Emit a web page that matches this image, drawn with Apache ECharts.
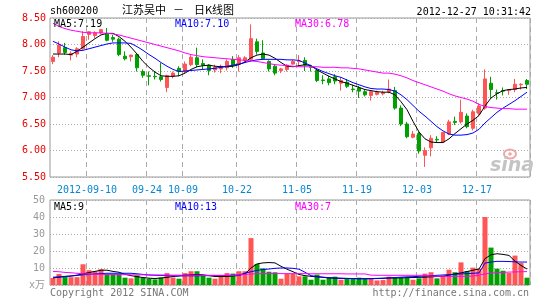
<!DOCTYPE html>
<html><head><meta charset="utf-8">
<script src="https://cdn.jsdelivr.net/npm/echarts@6/dist/echarts.min.js"></script>
<style>html,body{margin:0;padding:0;background:#fff}#c{width:545px;height:300px}</style>
</head><body><div id="c"></div>
<script>
// ---- data ----
const dates = ['2012-08-31','2012-09-03','2012-09-04','2012-09-05','2012-09-06','2012-09-07',
'2012-09-10','2012-09-11','2012-09-12','2012-09-13','2012-09-14','2012-09-17','2012-09-18','2012-09-19','2012-09-20','2012-09-21',
'2012-09-24','2012-09-25','2012-09-26','2012-09-27','2012-09-28','2012-10-08','2012-10-09','2012-10-10','2012-10-11','2012-10-12',
'2012-10-15','2012-10-16','2012-10-17','2012-10-18','2012-10-19','2012-10-22','2012-10-23','2012-10-24','2012-10-25','2012-10-26',
'2012-10-29','2012-10-30','2012-10-31','2012-11-01','2012-11-02','2012-11-05','2012-11-06','2012-11-07','2012-11-08','2012-11-09',
'2012-11-12','2012-11-13','2012-11-14','2012-11-15','2012-11-16','2012-11-19','2012-11-20','2012-11-21','2012-11-22','2012-11-23',
'2012-11-26','2012-11-27','2012-11-28','2012-11-29','2012-11-30','2012-12-03','2012-12-04','2012-12-05','2012-12-06','2012-12-07',
'2012-12-10','2012-12-11','2012-12-12','2012-12-13','2012-12-14','2012-12-17','2012-12-18','2012-12-19','2012-12-20','2012-12-21',
'2012-12-24','2012-12-25','2012-12-26','2012-12-27'];
const tickDates = ['2012-09-10','2012-09-24','2012-10-09','2012-10-22','2012-11-05','2012-11-19','2012-12-03','2012-12-17'];

const opens = [7.68,7.84,7.94,7.80,7.82,7.92,8.19,8.17,8.22,8.21, 8.13,8.10,7.78,7.77,7.81,7.49,7.41,7.40,7.39,7.19,
 7.40,7.55,7.49,7.62,7.75,7.64,7.61,7.52,7.54,7.56, 7.72,7.63,7.70,7.72,8.05,7.84,7.68,7.59,7.51,7.53,
 7.63,7.68,7.70,7.58,7.51,7.33,7.35,7.39,7.27,7.29, 7.16,7.18,7.11,7.04,7.06,7.07,7.11,7.13,6.80,6.50,
 6.25,6.32,5.91,6.05,6.21,6.16,6.31,6.55,6.54,6.65, 6.42,6.70,6.80,7.27,7.09,7.13,7.13,7.15,7.24,7.32];
const closes = [7.76,7.99,7.85,7.83,7.92,8.15,8.24,8.22,8.28,8.08, 8.10,7.81,7.73,7.80,7.56,7.42,7.40,7.39,7.34,7.41,
 7.46,7.49,7.63,7.76,7.62,7.61,7.51,7.57,7.59,7.68, 7.61,7.75,7.75,8.11,7.87,7.73,7.54,7.46,7.54,7.61,
 7.68,7.69,7.61,7.57,7.32,7.32,7.28,7.31,7.32,7.21, 7.15,7.12,7.05,7.11,7.10,7.09,7.16,6.80,6.50,6.26,
 6.31,5.99,6.00,6.23,6.20,6.34,6.54,6.53,6.72,6.45, 6.73,6.84,7.35,7.15,7.08,7.12,7.15,7.25,7.25,7.25];
const lows = [7.63,7.76,7.81,7.70,7.76,7.90,8.09,8.12,8.19,8.06, 8.05,7.78,7.70,7.68,7.49,7.37,7.23,7.34,7.30,7.10,
 7.36,7.40,7.46,7.59,7.57,7.53,7.42,7.47,7.46,7.51, 7.56,7.49,7.65,7.68,7.81,7.72,7.49,7.42,7.46,7.49,
 7.62,7.59,7.50,7.49,7.29,7.25,7.23,7.25,7.13,7.18, 7.10,6.99,7.02,6.94,7.04,7.04,7.08,6.77,6.46,6.23,
 6.23,5.94,5.69,5.89,6.15,6.15,6.29,6.48,6.51,6.42, 6.38,6.66,6.77,6.99,6.96,7.04,7.05,7.10,7.15,7.16];
const highs = [7.80,8.06,8.03,7.87,7.95,8.25,8.25,8.25,8.29,8.31, 8.18,8.13,7.87,7.81,7.81,7.53,7.49,7.49,7.65,7.43,
 7.49,7.59,7.68,7.80,7.94,7.72,7.63,7.62,7.62,7.72, 7.78,7.80,7.78,8.38,8.11,8.08,7.70,7.62,7.56,7.63,
 7.71,7.80,7.76,7.62,7.53,7.42,7.41,7.44,7.38,7.35, 7.24,7.22,7.15,7.13,7.13,7.13,7.34,7.20,6.85,6.54,
 6.37,6.35,6.06,6.29,6.27,6.35,6.58,6.64,6.96,6.70, 6.77,6.89,7.53,7.39,7.15,7.19,7.16,7.35,7.27,7.35];

const ma5 = [7.82,7.82,7.82,7.81,7.87,7.95,8.03,8.11,8.18,8.21, 8.21,8.15,8.06,7.95,7.82,7.68,7.57,7.48,7.41,7.40,
 7.40,7.41,7.46,7.53,7.58,7.60,7.61,7.59,7.58,7.58, 7.59,7.62,7.67,7.75,7.80,7.82,7.80,7.74,7.66,7.59,
 7.58,7.60,7.62,7.60,7.52,7.46,7.40,7.35,7.30,7.27, 7.23,7.19,7.15,7.13,7.11,7.10,7.10,7.05,6.92,6.77,
 6.55,6.35,6.22,6.16,6.15,6.15,6.22,6.32,6.41,6.50, 6.57,6.66,6.84,6.99,7.07,7.13,7.15,7.16,7.18,7.19];
const ma10 = [8.06,8.01,7.95,7.90,7.88,7.89,7.92,7.95,7.98,8.01, 8.03,8.03,8.03,8.02,7.96,7.89,7.81,7.74,7.66,7.59,
 7.53,7.49,7.50,7.51,7.52,7.53,7.54,7.55,7.57,7.59, 7.61,7.63,7.66,7.69,7.71,7.72,7.72,7.72,7.72,7.71,
 7.71,7.70,7.65,7.60,7.54,7.49,7.45,7.41,7.38,7.33, 7.28,7.24,7.20,7.17,7.16,7.16,7.15,7.12,7.05,6.96,
 6.85,6.74,6.65,6.55,6.45,6.37,6.31,6.29,6.29,6.30, 6.33,6.40,6.52,6.62,6.72,6.80,6.87,6.94,7.02,7.10];
const ma30 = [8.40,8.34,8.30,8.27,8.25,8.23,8.22,8.22,8.22,8.21, 8.20,8.18,8.15,8.12,8.09,8.06,8.03,8.00,7.97,7.94,
 7.91,7.88,7.84,7.81,7.79,7.77,7.76,7.75,7.74,7.73, 7.72,7.71,7.70,7.69,7.68,7.66,7.64,7.62,7.61,7.60,
 7.59,7.58,7.58,7.58,7.58,7.57,7.57,7.57,7.56,7.56, 7.55,7.54,7.52,7.50,7.48,7.46,7.46,7.44,7.41,7.37,
 7.32,7.28,7.24,7.20,7.16,7.12,7.07,7.03,7.00,6.97, 6.93,6.87,6.83,6.81,6.80,6.79,6.79,6.78,6.78,6.78];

const volumes = [4.1,6.5,5.4,4.6,4.6,12.2,8.7,8.1,9.3,6.5, 6.5,6.5,4.3,3.9,5.7,4.3,3.7,3.3,4.4,7.0,
 4.4,3.7,7.0,8.1,8.1,5.4,4.3,3.7,5.4,7.0, 6.7,8.1,8.1,27.6,12.4,9.8,7.8,7.5,3.7,6.5,
 6.5,5.1,5.1,3.1,6.1,3.1,4.5,4.9,3.1,3.9, 3.9,4.3,3.5,3.5,2.7,2.9,4.9,4.3,4.3,4.3,
 3.1,3.9,6.7,7.5,3.9,5.5,9.0,7.5,13.3,8.2, 10.2,9.6,40.0,22.0,9.6,8.4,7.1,17.3,12.9,4.3];
const volMa5 = [4.2,4.6,5.0,5.3,5.8,6.6,7.3,8.0,8.7,8.7, 8.0,7.5,6.3,5.5,4.9,4.4,4.0,3.8,4.1,4.5,
 5.0,5.3,5.8,6.0,6.2,6.0,5.5,5.0,5.0,5.0, 5.3,5.7,6.6,10.0,12.4,13.0,13.2,13.0,11.0,9.3,
 7.8,6.2,5.5,5.1,4.8,4.5,4.2,4.0,3.9,3.8, 3.8,3.7,3.7,3.7,3.8,3.9,4.1,4.1,4.2,4.3,
 4.4,4.5,4.6,4.8,5.0,5.1,5.8,6.5,7.1,7.9, 8.7,9.4,15.5,17.8,18.4,18.0,17.4,14.0,11.5,9.4];
const volMa10 = [4.6,4.8,5.0,5.3,5.6,6.0,6.3,6.5,6.7,6.9, 6.9,6.9,6.9,6.9,6.6,6.2,5.9,5.7,5.6,5.5,
 5.4,5.4,5.4,5.4,5.4,5.5,5.5,5.6,5.6,5.6, 5.7,5.8,7.0,7.8,8.6,9.1,9.4,9.8,10.0,10.0,
 9.8,9.3,7.5,5.5,5.0,4.6,4.3,4.1,4.0,3.9, 3.8,3.7,3.7,3.8,3.9,4.0,4.2,4.4,4.6,4.8,
 4.9,5.1,5.3,5.5,5.7,5.9,6.1,6.3,6.5,6.7, 6.9,7.1,12.9,13.5,13.9,13.9,13.8,13.6,13.5,13.5];
const volMa30 = [8.0,7.8,7.4,7.2,6.9,6.6,6.4,6.3,6.3,6.2, 6.2,6.1,6.1,6.0,6.0,6.0,5.9,5.9,5.9,5.9,
 5.8,5.8,5.8,5.8,5.8,5.7,5.7,5.7,5.7,5.7, 5.7,5.9,6.2,6.5,6.6,6.7,6.7,6.7,6.7,6.7,
 6.7,6.7,6.7,6.6,6.6,6.6,6.6,6.6,6.6,6.5, 6.5,6.5,6.5,5.8,5.7,5.7,5.7,5.7,5.7,5.7,
 5.7,5.7,5.7,5.3,5.1,5.1,5.1,5.1,5.1,5.1, 5.3,5.8,6.5,7.0,7.2,7.4,7.6,7.7,7.8,7.9];

// ---- chart ----
const UP = '#ff5555', DOWN = '#00a000';
const MONO = '"DejaVu Sans Mono", "Liberation Mono", "Noto Sans CJK SC", monospace';
const tickIdx = tickDates.map(d => dates.indexOf(d));
const kData = dates.map((d, i) => [opens[i], closes[i], lows[i], highs[i]]);
const volData = volumes.map((v, i) => ({ value: v, itemStyle: { color: closes[i] >= opens[i] ? UP : DOWN } }));

const chart = echarts.init(document.getElementById('c'), null, { renderer: 'canvas' });
function xAx(gi, showLabel) {
  return {
    type: 'category', gridIndex: gi, data: dates, boundaryGap: true,
    axisLine: { show: false }, axisTick: { show: false },
    axisLabel: {
      show: showLabel, interval: (i) => tickIdx.includes(i),
      formatter: (v) => v === tickDates[0] ? v : v.slice(5),
      color: '#0787d1', fontFamily: MONO, fontSize: 10, margin: 8, padding: [0, 4, 0, 0]
    },
    splitLine: { show: true, interval: (i) => tickIdx.includes(i), lineStyle: { color: '#aaa', width: 1, type: [5, 4] } }
  };
}
function line(name, data, color, xi, yi) {
  return { name, type: 'line', data, xAxisIndex: xi, yAxisIndex: yi, symbol: 'none', smooth: false,
    lineStyle: { color, width: 1 }, silent: true, z: 3 };
}
function txt(x, y, text, color, align, size, family) {
  return { type: 'text', x, y, silent: true, z: 100,
    style: { text, fill: color, font: (size || 10) + 'px ' + (family || MONO), textAlign: align || 'left', textVerticalAlign: 'middle' } };
}

chart.setOption({
  animation: false,
  backgroundColor: '#fff',
  grid: [
    { left: 50, top: 18, width: 480, height: 159, show: true, borderColor: '#999', borderWidth: 1, backgroundColor: 'transparent' },
    { left: 50, top: 200, width: 480, height: 85, show: true, borderColor: '#999', borderWidth: 1, backgroundColor: 'transparent' }
  ],
  xAxis: [xAx(0, true), xAx(1, false)],
  yAxis: [
    { type: 'value', gridIndex: 0, min: 5.5, max: 8.5, interval: 0.5,
      axisLine: { show: false }, axisTick: { show: false },
      axisLabel: { color: '#ee0000', fontFamily: MONO, fontSize: 10, margin: 4, formatter: (v) => v.toFixed(2) },
      splitLine: { lineStyle: { color: '#aaa', type: [1, 2] } } },
    { type: 'value', gridIndex: 1, min: 0, max: 50, interval: 10,
      axisLine: { show: false }, axisTick: { show: false },
      axisLabel: { color: '#999', fontFamily: MONO, fontSize: 10, margin: 5, formatter: (v) => v === 0 ? 'x万' : String(v) },
      splitLine: { lineStyle: { color: '#aaa', type: [1, 2] } } }
  ],
  series: [
    { type: 'candlestick', data: kData, xAxisIndex: 0, yAxisIndex: 0, barWidth: 4, silent: true,
      itemStyle: { color: UP, color0: DOWN, borderColor: UP, borderColor0: DOWN, borderWidth: 1 } },
    line('MA5', ma5, '#000', 0, 0),
    line('MA10', ma10, '#0000ff', 0, 0),
    line('MA30', ma30, '#ff00ff', 0, 0),
    { type: 'bar', data: volData, xAxisIndex: 1, yAxisIndex: 1, barWidth: 5, silent: true },
    line('VMA5', volMa5, '#000', 1, 1),
    line('VMA10', volMa10, '#0000ff', 1, 1),
    line('VMA30', volMa30, '#ff00ff', 1, 1)
  ],
  graphic: [
    txt(50, 11, 'sh600200', '#000'),
    txt(122, 10, '江苏吴中', '#000', 'left', 11, '"Noto Sans CJK SC"'),
    txt(178.5, 10, '－', '#000', 'center', 11, '"Noto Sans CJK SC"'),
    txt(194, 10, '日K线图', '#000', 'left', 11, '"Noto Sans CJK SC"'),
    txt(531, 12, '2012-12-27 10:31:42', '#000', 'right'),
    txt(54, 24, 'MA5:7.19', '#000'),
    txt(175, 24, 'MA10:7.10', '#0000ff'),
    txt(295, 24, 'MA30:6.78', '#ff00ff'),
    txt(54, 207, 'MA5:9', '#000'),
    txt(175, 207, 'MA10:13', '#0000ff'),
    txt(295, 207, 'MA30:7', '#ff00ff'),
    txt(50, 293, 'Copyright 2012 SINA.COM', '#777'),
    txt(529, 293, 'http://finance.sina.com.cn', '#777', 'right'),
    { type: 'ellipse', silent: true, z: 1, shape: { cx: 510, cy: 154, rx: 6, ry: 4.5 }, style: { fill: 'none', stroke: '#eea6a6', lineWidth: 2 } },
    { type: 'circle', silent: true, z: 1, shape: { cx: 510, cy: 154, r: 1.8 }, style: { fill: '#eea6a6' } },
    { type: 'text', x: 512, y: 166, silent: true, z: 1,
      style: { text: 'sina', fill: '#c4c4c4', font: 'italic bold 19px "DejaVu Sans"', textAlign: 'center', textVerticalAlign: 'middle' } }
  ]
});
</script></body></html>
